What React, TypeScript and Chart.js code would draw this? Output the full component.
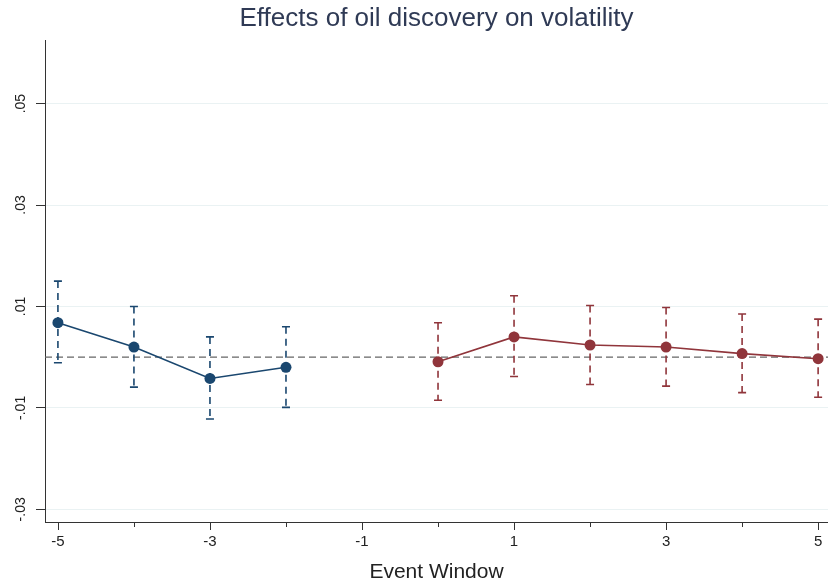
import React, { useEffect, useRef } from "react";
import { Chart, registerables } from "chart.js";

Chart.register(...registerables);

const titleText = "Effects of oil discovery on volatility";
const xTitle = "Event Window";

const preX = [-5, -4, -3, -2];
const preCoef = [0.0068, 0.002, -0.0042, -0.002];
const preLo = [-0.0011, -0.0059, -0.0122, -0.0099];
const preHi = [0.015, 0.01, 0.004, 0.006];

const postX = [0, 1, 2, 3, 4, 5];
const postCoef = [-0.0009, 0.004, 0.0024, 0.002, 0.0007, -0.0003];
const postLo = [-0.0085, -0.0038, -0.0054, -0.0057, -0.007, -0.0079];
const postHi = [0.0068, 0.0121, 0.0102, 0.0098, 0.0085, 0.0075];

const xTickValues = [-5, -4, -3, -2, -1, 0, 1, 2, 3, 4, 5];
const yTickValues = [-0.03, -0.01, 0.01, 0.03, 0.05];
const yTickLabels = ["-.03", "-.01", ".01", ".03", ".05"];

const BLUE = "#1a476f";
const RED = "#90353b";
const FONT = "'Liberation Sans', Arial, sans-serif";

const overlay = {
  id: "overlay",
  beforeDatasetsDraw(chart: any) {
    const { ctx, chartArea, scales } = chart;
    const xs = scales.x;
    const ys = scales.y;
    ctx.save();
    ctx.strokeStyle = "#666666";
    ctx.lineWidth = 1.3;
    ctx.setLineDash([7, 4]);
    const y0 = ys.getPixelForValue(0);
    ctx.beginPath();
    ctx.moveTo(chartArea.left, y0);
    ctx.lineTo(chartArea.right, y0);
    ctx.stroke();
    ctx.restore();

    const drawBars = (xv: number[], lo: number[], hi: number[], color: string) => {
      ctx.save();
      ctx.strokeStyle = color;
      ctx.lineWidth = 1.6;
      xv.forEach((v, i) => {
        const px = xs.getPixelForValue(v);
        const pl = ys.getPixelForValue(lo[i]);
        const ph = ys.getPixelForValue(hi[i]);
        ctx.setLineDash([7, 5]);
        ctx.beginPath();
        ctx.moveTo(px, ph);
        ctx.lineTo(px, pl);
        ctx.stroke();
        ctx.setLineDash([]);
        ctx.beginPath();
        ctx.moveTo(px - 4, ph);
        ctx.lineTo(px + 4, ph);
        ctx.moveTo(px - 4, pl);
        ctx.lineTo(px + 4, pl);
        ctx.stroke();
      });
      ctx.restore();
    };
    drawBars(preX, preLo, preHi, BLUE);
    drawBars(postX, postLo, postHi, RED);
  },
  afterDraw(chart: any) {
    const { ctx, chartArea, scales } = chart;
    const xs = scales.x;
    const ys = scales.y;
    ctx.save();
    ctx.strokeStyle = "#333333";
    ctx.lineWidth = 1;
    xTickValues.forEach((v) => {
      const px = Math.round(xs.getPixelForValue(v)) + 0.5;
      const len = v % 2 !== 0 ? 8 : 5;
      ctx.beginPath();
      ctx.moveTo(px, chartArea.bottom);
      ctx.lineTo(px, chartArea.bottom + len);
      ctx.stroke();
    });
    ctx.fillStyle = "#222222";
    ctx.font = `14px ${FONT}`;
    ctx.textAlign = "center";
    ctx.textBaseline = "middle";
    yTickValues.forEach((v, i) => {
      const py = ys.getPixelForValue(v);
      ctx.save();
      ctx.translate(21, py);
      ctx.rotate(-Math.PI / 2);
      ctx.fillText(yTickLabels[i], 0, 0);
      ctx.restore();
    });
    ctx.restore();
  },
};

export default function App() {
  const ref = useRef<HTMLCanvasElement>(null);
  useEffect(() => {
    if (!ref.current) return;
    const chart = new Chart(ref.current, {
      type: "line",
      data: {
        datasets: [
          {
            data: preX.map((x, i) => ({ x, y: preCoef[i] })),
            borderColor: BLUE,
            backgroundColor: BLUE,
            borderWidth: 1.6,
            pointRadius: 5.5,
            pointBorderWidth: 0,
            pointBackgroundColor: BLUE,
          },
          {
            data: postX.map((x, i) => ({ x, y: postCoef[i] })),
            borderColor: RED,
            backgroundColor: RED,
            borderWidth: 1.6,
            pointRadius: 5.5,
            pointBorderWidth: 0,
            pointBackgroundColor: RED,
          },
        ],
      },
      options: {
        responsive: false,
        animation: false,
        layout: { padding: 0, autoPadding: false },
        plugins: {
          legend: { display: false },
          tooltip: { enabled: false },
          title: {
            display: true,
            text: titleText,
            fullSize: false,
            color: "#2f3a55",
            font: { family: FONT, size: 26, weight: "normal" },
            padding: { top: 3, bottom: 6 },
          },
        },
        scales: {
          x: {
            type: "linear",
            min: -5.17,
            max: 5.13,
            afterBuildTicks: (s: any) => {
              s.ticks = xTickValues.map((v) => ({ value: v }));
            },
            afterFit: (s: any) => {
              s.height = 66;
              s.paddingLeft = 0;
              s.paddingRight = 0;
            },
            ticks: {
              autoSkip: false,
              maxRotation: 0,
              minRotation: 0,
              padding: 11,
              color: "#222222",
              font: { family: FONT, size: 15 },
              callback: (v: any) => (Math.abs(v) % 2 === 1 ? String(v) : ""),
            },
            grid: { display: false, drawTicks: false },
            border: { display: true, color: "#333333", width: 1 },
            title: {
              display: true,
              text: xTitle,
              color: "#222222",
              font: { family: FONT, size: 21 },
              padding: { top: 0, bottom: 3 },
            },
          },
          y: {
            type: "linear",
            min: -0.0325,
            max: 0.0625,
            afterBuildTicks: (s: any) => {
              s.ticks = yTickValues.map((v) => ({ value: v }));
            },
            afterFit: (s: any) => {
              s.width = 45;
              s.paddingTop = 0;
              s.paddingBottom = 0;
            },
            ticks: { display: false },
            grid: {
              color: "#eaf2f3",
              lineWidth: 1,
              drawTicks: true,
              tickLength: 9,
              tickColor: "#333333",
            },
            border: { display: true, color: "#333333", width: 1 },
          },
        },
      },
      plugins: [overlay],
    });
    return () => chart.destroy();
  }, []);
  return (
    <div style={{ position: "absolute", left: 0, top: 0, width: 828, height: 588, background: "#ffffff" }}>
      <canvas ref={ref} width={828} height={588} style={{ display: "block" }} />
    </div>
  );
}
